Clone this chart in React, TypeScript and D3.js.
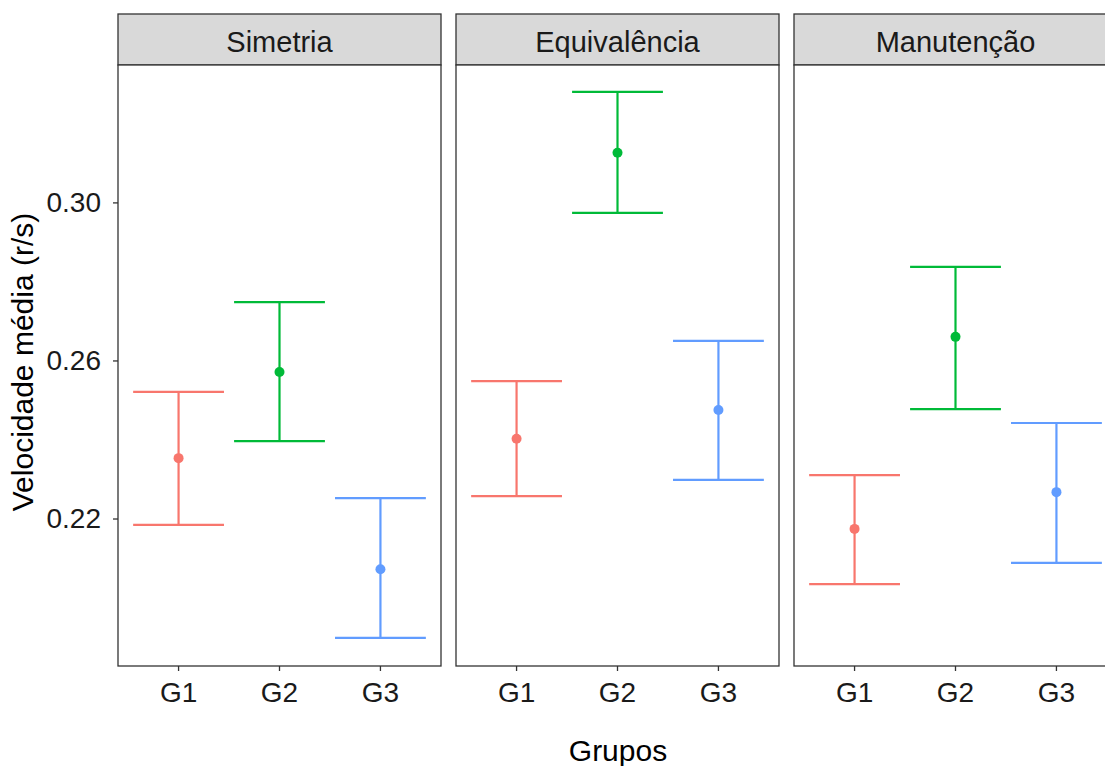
import React, { useEffect, useRef } from 'react';
import * as d3 from 'd3';

// dados
const painéis = ['Simetria', 'Equivalência', 'Manutenção'];
const grupos = ['G1', 'G2', 'G3'];
const cores = ['#F8766D', '#00BA38', '#619CFF'];

const media = [
  [0.2354, 0.2572, 0.2073],
  [0.2403, 0.3127, 0.2476],
  [0.2175, 0.2661, 0.2268],
];
const superior = [
  [0.2522, 0.2749, 0.2253],
  [0.2549, 0.3281, 0.2651],
  [0.2311, 0.2838, 0.2443],
];
const inferior = [
  [0.2185, 0.2397, 0.1899],
  [0.2258, 0.2975, 0.2299],
  [0.2035, 0.2478, 0.2089],
];
const yTicks = [0.22, 0.26, 0.30];

const W = 1105;
const H = 766;

const App = () => {
  const ref = useRef<SVGSVGElement | null>(null);

  useEffect(() => {
    document.body.style.margin = '0';
    if (!ref.current) return;
    const svg = d3.select(ref.current);
    svg.selectAll('*').remove();

    const font = 'Arial, "Liberation Sans", sans-serif';
    const stripTop = 14;
    const stripH = 51;
    const top = stripTop + stripH;
    const bottom = 666;
    const left0 = 118;
    const panelW = 323;
    const gap = 15;

    // escala y comum
    const y = d3.scaleLinear().domain([0.1828, 0.3349]).range([bottom, top]);

    painéis.forEach((nome, p) => {
      const x0 = left0 + p * (panelW + gap);
      const x = d3.scalePoint().domain(grupos).range([x0, x0 + panelW]).padding(0.6);
      const step = x.step();
      const g = svg.append('g');

      // faixa
      g.append('rect')
        .attr('x', x0).attr('y', stripTop)
        .attr('width', panelW).attr('height', stripH)
        .attr('fill', '#D9D9D9')
        .attr('stroke', '#333').attr('stroke-width', 1.3);
      g.append('text')
        .attr('x', x0 + panelW / 2).attr('y', 52)
        .attr('text-anchor', 'middle')
        .style('font-family', font).style('font-size', '29px')
        .attr('fill', '#1a1a1a')
        .text(nome);

      // painel
      g.append('rect')
        .attr('x', x0).attr('y', top)
        .attr('width', panelW).attr('height', bottom - top)
        .attr('fill', 'white')
        .attr('stroke', '#333').attr('stroke-width', 1.3);

      // eixo x
      grupos.forEach((gr) => {
        g.append('line')
          .attr('x1', x(gr)).attr('x2', x(gr))
          .attr('y1', bottom).attr('y2', bottom + 5)
          .attr('stroke', '#333').attr('stroke-width', 1.3);
        g.append('text')
          .attr('x', x(gr)).attr('y', 702)
          .attr('text-anchor', 'middle')
          .style('font-family', font).style('font-size', '28px')
          .attr('fill', '#1a1a1a')
          .text(gr);
      });

      // barras de erro
      grupos.forEach((gr, i) => {
        const cx = x(gr) as number;
        const half = step * 0.45;
        const c = cores[i];
        g.append('line')
          .attr('x1', cx).attr('x2', cx)
          .attr('y1', y(superior[p][i])).attr('y2', y(inferior[p][i]))
          .attr('stroke', c).attr('stroke-width', 2.2);
        [superior[p][i], inferior[p][i]].forEach((v) => {
          g.append('line')
            .attr('x1', cx - half).attr('x2', cx + half)
            .attr('y1', y(v)).attr('y2', y(v))
            .attr('stroke', c).attr('stroke-width', 2.2);
        });
        g.append('circle')
          .attr('cx', cx).attr('cy', y(media[p][i]))
          .attr('r', 5).attr('fill', c);
      });
    });

    // eixo y
    yTicks.forEach((t) => {
      svg.append('line')
        .attr('x1', left0 - 5).attr('x2', left0)
        .attr('y1', y(t)).attr('y2', y(t))
        .attr('stroke', '#333').attr('stroke-width', 1.3);
      svg.append('text')
        .attr('x', 101).attr('y', y(t) + 9)
        .attr('text-anchor', 'end')
        .style('font-family', font).style('font-size', '28px')
        .attr('fill', '#1a1a1a')
        .text(t.toFixed(2));
    });

    // títulos
    svg.append('text')
      .attr('transform', `translate(33,362) rotate(-90)`)
      .attr('text-anchor', 'middle')
      .style('font-family', font).style('font-size', '30px')
      .attr('fill', '#000')
      .text('Velocidade média (r/s)');
    svg.append('text')
      .attr('x', 618).attr('y', 761)
      .attr('text-anchor', 'middle')
      .style('font-family', font).style('font-size', '30px')
      .attr('fill', '#000')
      .text('Grupos');
  }, []);

  return <svg ref={ref} width={W} height={H} style={{ display: 'block', background: 'white' }} />;
};

export default App;
